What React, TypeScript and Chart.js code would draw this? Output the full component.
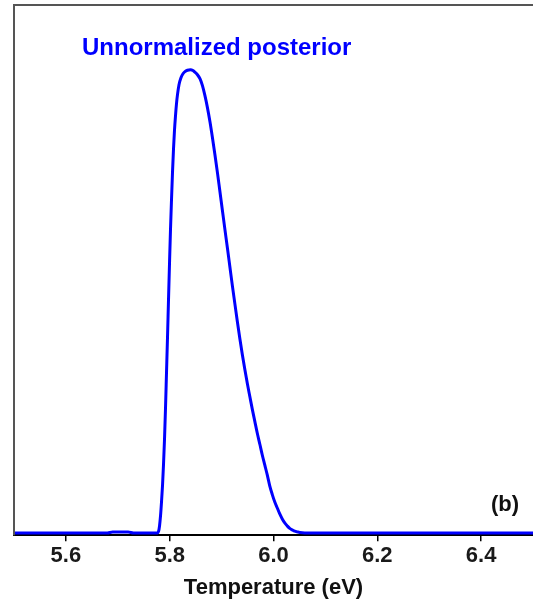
import React, { useEffect, useRef } from "react";
import { Chart, registerables } from "chart.js";

Chart.register(...registerables);

// Temperature (eV)
const temperatures: number[] = [
  5.5, 5.6, 5.68, 5.69, 5.705, 5.72, 5.73, 5.77,
  5.7765, 5.7785, 5.7804, 5.7823, 5.7842, 5.7862, 5.7881, 5.79, 5.7919, 5.7938,
  5.7958, 5.7977, 5.7996, 5.8015, 5.8035, 5.8054, 5.8073, 5.8092, 5.8112, 5.8131,
  5.815, 5.8179, 5.8217, 5.8256, 5.8294, 5.8342, 5.84, 5.8448,
  5.8487, 5.8535, 5.8583, 5.8631, 5.8679, 5.8727, 5.8775, 5.8823, 5.8871, 5.8919,
  5.8967, 5.9015, 5.9063, 5.9112, 5.916, 5.9208, 5.9256, 5.9304, 5.9352, 5.94,
  5.9448, 5.9496, 5.9544, 5.9592, 5.964, 5.9688, 5.9737, 5.9785, 5.9833, 5.9881,
  5.9929, 5.9977, 6.0025, 6.0073, 6.0121, 6.0169, 6.0217, 6.0265, 6.0313, 6.0362,
  6.041, 6.0458, 6.0506, 6.0602, 6.1, 6.3, 6.5,
];
// Unnormalized posterior (peak = 1)
const posterior: number[] = [
  0, 0, 0, 0.002, 0.002, 0.002, 0, 0,
  0, 0.0032, 0.0151, 0.0366, 0.0667, 0.1032, 0.1484, 0.2022, 0.2688, 0.3441,
  0.4237, 0.5032, 0.5806, 0.6538, 0.7204, 0.7785, 0.828, 0.8688, 0.9011, 0.9269,
  0.9462, 0.9677, 0.9828, 0.9914, 0.9961, 0.9989, 1.0, 0.9983,
  0.9946, 0.9892, 0.9806, 0.9656, 0.9441, 0.9183, 0.8882, 0.8538, 0.8172, 0.7785,
  0.7376, 0.6968, 0.6559, 0.6151, 0.5742, 0.5333, 0.4946, 0.4559, 0.4194, 0.3849,
  0.3527, 0.3226, 0.2946, 0.2667, 0.2409, 0.2151, 0.1914, 0.1677, 0.1462, 0.1247,
  0.1011, 0.0828, 0.0667, 0.0538, 0.0409, 0.0301, 0.0215, 0.0151, 0.0097, 0.0065,
  0.0037, 0.0022, 0.0009, 0, 0, 0, 0,
];
const xTicks: number[] = [5.6, 5.8, 6.0, 6.2, 6.4];

const seriesLabel = "Unnormalized posterior";
const panelLabel = "(b)";
const xTitle = "Temperature (eV)";

const FONT = "'Liberation Sans', Arial, Helvetica, sans-serif";

export default function App() {
  const ref = useRef<HTMLCanvasElement | null>(null);

  useEffect(() => {
    if (!ref.current) return;
    const framePlugin = {
      id: "frameAndText",
      afterDraw(chart: any) {
        const { ctx, chartArea } = chart;
        ctx.save();
        ctx.strokeStyle = "#555";
        ctx.lineWidth = 2;
        ctx.beginPath();
        ctx.moveTo(chartArea.left, chartArea.bottom);
        ctx.lineTo(chartArea.left, chartArea.top);
        ctx.lineTo(chartArea.right, chartArea.top);
        ctx.stroke();

        ctx.font = `bold 24px ${FONT}`;
        ctx.fillStyle = "#0000ff";
        ctx.textAlign = "left";
        ctx.textBaseline = "middle";
        ctx.fillText(seriesLabel, 82, 48);

        ctx.font = `bold 22px ${FONT}`;
        ctx.fillStyle = "#111";
        ctx.textAlign = "center";
        ctx.fillText(panelLabel, 505, 505);
        ctx.restore();
      },
    };

    const chart = new Chart(ref.current, {
      type: "line",
      data: {
        datasets: [
          {
            label: seriesLabel,
            data: temperatures.map((t, i) => ({ x: t, y: posterior[i] })),
            borderColor: "#0000ff",
            borderWidth: 3,
            pointRadius: 0,
            fill: false,
            cubicInterpolationMode: "monotone",
          },
        ],
      },
      options: {
        animation: false,
        responsive: false,
        layout: { padding: { left: 14, top: 5, right: 0, bottom: 1 } },
        plugins: { legend: { display: false }, tooltip: { enabled: false } },
        scales: {
          x: {
            type: "linear",
            min: 5.5,
            max: 6.5,
            afterBuildTicks: (scale: any) => {
              scale.ticks = xTicks.map((v) => ({ value: v }));
            },
            ticks: {
              padding: 2,
              color: "#1a1a1a",
              font: { family: FONT, size: 22, weight: "bold" },
              callback: (v: any) => Number(v).toFixed(1),
              maxRotation: 0,
            },
            grid: {
              display: true,
              drawOnChartArea: false,
              drawTicks: true,
              tickLength: 6,
              color: "#000",
              lineWidth: 1.5,
            },
            border: { display: true, color: "#000", width: 2 },
            title: {
              display: true,
              text: xTitle,
              color: "#111",
              font: { family: FONT, size: 22, weight: "bold" },
              padding: { top: 3, bottom: 0 },
            },
          },
          y: {
            display: false,
            min: -0.0049,
            max: 1.1398,
          },
        },
      },
      plugins: [framePlugin],
    } as any);
    return () => chart.destroy();
  }, []);

  return (
    <div style={{ position: "absolute", left: 0, top: 0, width: 533, height: 602, background: "#fff" }}>
      <canvas ref={ref} width={533} height={602} />
    </div>
  );
}
